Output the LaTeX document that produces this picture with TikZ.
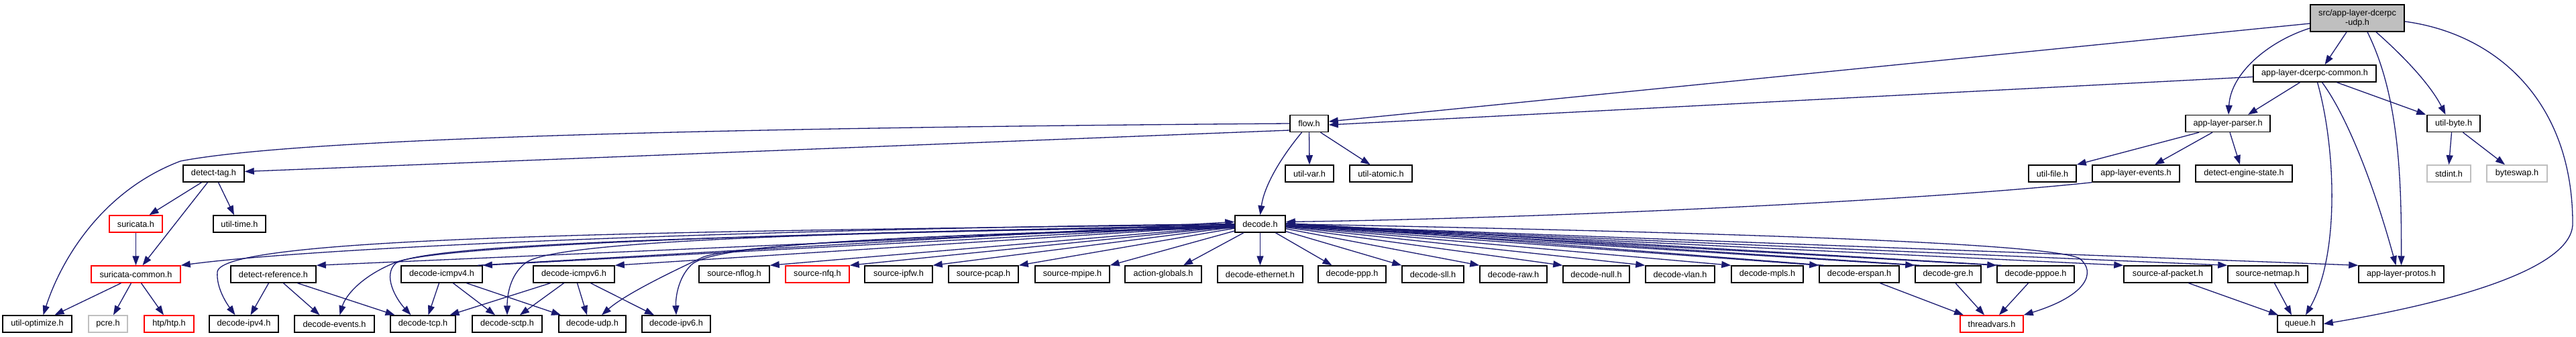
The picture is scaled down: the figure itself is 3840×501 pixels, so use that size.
\documentclass[tikz,border=0pt]{standalone}
\usepackage{fontspec}
\setmainfont{Liberation Sans}
\usetikzlibrary{arrows.meta,calc}
\definecolor{edgeblue}{HTML}{191970}
\definecolor{boxred}{HTML}{FF0000}
\definecolor{boxgray}{HTML}{BFBFBF}
\begin{document}
\begin{tikzpicture}[x=1pt,y=-1pt,
  box/.style={draw=black, line width=1.5pt, fill=white, inner sep=0pt, minimum height=25pt,
    font=\fontsize{12.7}{14}\selectfont, text=black},
  redbox/.style={box, draw=boxred},
  graybox/.style={box, draw=boxgray},
  e/.style={draw=edgeblue, line width=1.3pt, -{Triangle[length=14pt,width=10pt]}}]
\useasboundingbox[fill=white] (0,0) rectangle (3840,501);
% ---------- nodes ----------
\node[box, fill=boxgray, minimum width=140pt, minimum height=40pt, align=center] (top) at (3514,27) {src/app-layer-dcerpc\\-udp.h};
\node[box, minimum width=183pt] (common) at (3450.5,109.5) {app-layer-dcerpc-common.h};
\node[box, minimum width=57pt] (flow) at (1951.5,184) {flow.h};
\node[box, minimum width=126pt] (parser) at (3321,184) {app-layer-parser.h};
\node[box, minimum width=79pt] (utilbyte) at (3657.5,184) {util-byte.h};
\node[box, minimum width=91pt] (detecttag) at (318.5,258.5) {detect-tag.h};
\node[box, minimum width=72pt] (utilvar) at (1952,258.5) {util-var.h};
\node[box, minimum width=93pt] (utilatomic) at (2058.5,258.5) {util-atomic.h};
\node[box, minimum width=71pt] (utilfile) at (3059.5,258.5) {util-file.h};
\node[box, minimum width=130pt] (events) at (3184,258.5) {app-layer-events.h};
\node[box, minimum width=144pt] (des) at (3345,258.5) {detect-engine-state.h};
\node[graybox, minimum width=65pt] (stdint) at (3650.5,258.5) {stdint.h};
\node[graybox, minimum width=90pt] (byteswap) at (3752,258.5) {byteswap.h};
\node[redbox, minimum width=79pt] (suricata) at (202.5,333.5) {suricata.h};
\node[box, minimum width=78pt] (utiltime) at (357,333.5) {util-time.h};
\node[box, minimum width=75pt] (decode) at (1878.5,333.5) {decode.h};
\node[redbox, minimum width=133pt] (surcommon) at (202.5,408.5) {suricata-common.h};
\node[box, minimum width=127pt] (detectref) at (407.5,408.5) {detect-reference.h};
\node[box, minimum width=121pt] (icmpv4) at (658.5,408.5) {decode-icmpv4.h};
\node[box, minimum width=121pt] (icmpv6) at (855.5,408.5) {decode-icmpv6.h};
\node[box, minimum width=105pt] (nflog) at (1094.5,408.5) {source-nflog.h};
\node[redbox, minimum width=95pt] (nfq) at (1218.5,408.5) {source-nfq.h};
\node[box, minimum width=101pt] (ipfw) at (1339.5,408.5) {source-ipfw.h};
\node[box, minimum width=104pt] (pcap) at (1466,408.5) {source-pcap.h};
\node[box, minimum width=111pt] (mpipe) at (1598.5,408.5) {source-mpipe.h};
\node[box, minimum width=114pt] (actglob) at (1734,408.5) {action-globals.h};
\node[box, minimum width=127pt] (ethernet) at (1878.5,408.5) {decode-ethernet.h};
\node[box, minimum width=101pt] (ppp) at (2015.5,408.5) {decode-ppp.h};
\node[box, minimum width=92pt] (sll) at (2136,408.5) {decode-sll.h};
\node[box, minimum width=100pt] (raw) at (2256,408.5) {decode-raw.h};
\node[box, minimum width=99pt] (null) at (2379.5,408.5) {decode-null.h};
\node[box, minimum width=103pt] (vlan) at (2504.5,408.5) {decode-vlan.h};
\node[box, minimum width=107pt] (mpls) at (2634.5,408.5) {decode-mpls.h};
\node[box, minimum width=119pt] (erspan) at (2771.5,408.5) {decode-erspan.h};
\node[box, minimum width=98pt] (gre) at (2904,408.5) {decode-gre.h};
\node[box, minimum width=115pt] (pppoe) at (3034.5,408.5) {decode-pppoe.h};
\node[box, minimum width=131pt] (afpacket) at (3231.5,408.5) {source-af-packet.h};
\node[box, minimum width=119pt] (netmap) at (3380.5,408.5) {source-netmap.h};
\node[box, minimum width=127pt] (protos) at (3579.5,408.5) {app-layer-protos.h};
\node[box, minimum width=103pt] (optimize) at (55.5,482.5) {util-optimize.h};
\node[graybox, minimum width=58pt] (pcre) at (161,482.5) {pcre.h};
\node[redbox, minimum width=74pt] (htp) at (252,482.5) {htp/htp.h};
\node[box, minimum width=103pt] (ipv4) at (363.5,482.5) {decode-ipv4.h};
\node[box, minimum width=119pt] (events2) at (498.5,482.5) {decode-events.h};
\node[box, minimum width=97pt] (tcp) at (630.5,482.5) {decode-tcp.h};
\node[box, minimum width=104pt] (sctp) at (756,482.5) {decode-sctp.h};
\node[box, minimum width=100pt] (udp) at (883,482.5) {decode-udp.h};
\node[box, minimum width=102pt] (ipv6) at (1008,482.5) {decode-ipv6.h};
\node[redbox, minimum width=94pt] (threadvars) at (2969,482.5) {threadvars.h};
\node[box, minimum width=68pt] (queue) at (3429,482.5) {queue.h};
% ---------- edges from top ----------
\draw[e] ($(top.west)+(0,8)$) -- ($(flow.east)+(0,-3)$);
\draw[e] ($(top.west)+(0,15)$) .. controls (3380,62) and (3325,110) .. ($(parser.north)+(1,0)$);
\draw[e] ($(top.south)+(-16,0)$) -- ($(common.north)+(15,0)$);
\draw[e] ($(top.south)+(15,0)$) .. controls (3575,140) and (3580,260) .. (protos.north);
\draw[e] ($(top.south)+(28,0)$) .. controls (3590,90) and (3625,130) .. ($(utilbyte.north)+(-12,0)$);
\draw[e] ($(top.east)+(0,5)$) .. controls (3720,50) and (3835,150) .. (3835,333) .. controls (3835,405) and (3630,455) .. (queue.east);
% ---------- common ----------
\draw[e] ($(common.west)+(0,5)$) -- ($(flow.east)+(0,2)$);
\draw[e] ($(common.south)+(-22,0)$) -- ($(parser.north)+(30,0)$);
\draw[e] ($(common.south)+(33,0)$) -- ($(utilbyte.north west)+(-1,0)$);
\draw[e] ($(common.south)+(4,0)$) .. controls (3482,220) and (3488,380) .. ($(queue.north)+(8,0)$);
\draw[e] ($(common.south)+(11,0)$) .. controls (3500,175) and (3540,280) .. ($(protos.north)+(-8,0)$);
% ---------- util-byte ----------
\draw[e] ($(utilbyte.south)+(-3,0)$) -- (stdint.north);
\draw[e] ($(utilbyte.south)+(14,0)$) -- ($(byteswap.north)+(-18,0)$);
% ---------- parser ----------
\draw[e] ($(parser.south)+(-43,0)$) -- (utilfile.north east);
\draw[e] ($(parser.south)+(-23,0)$) -- ($(events.north)+(28,0)$);
\draw[e] ($(parser.south)+(3,0)$) -- ($(des.north)+(-6,0)$);
\draw[e] (events.south west) .. controls (2850,300) and (2300,325) .. ($(decode.east)+(0,-3)$);
% ---------- flow ----------
\draw[e] (flow.west) .. controls (1100,190) and (450,205) .. (269,240) .. controls (150,285) and (90,390) .. ($(optimize.north)+(9,0)$);
\draw[e] ($(flow.west)+(0,10)$) -- ($(detecttag.east)+(0,-3)$);
\draw[e] ($(flow.south)+(-11,0)$) .. controls (1905,240) and (1884,280) .. (decode.north);
\draw[e] (flow.south) -- (utilvar.north);
\draw[e] ($(flow.south)+(17,0)$) -- ($(utilatomic.north)+(-16,0)$);
% ---------- detect-tag ----------
\draw[e] ($(detecttag.south)+(-18,0)$) -- ($(suricata.north)+(20,0)$);
\draw[e] ($(detecttag.south)+(-9,0)$) -- ($(surcommon.north)+(10,0)$);
\draw[e] ($(detecttag.south)+(7,0)$) -- ($(utiltime.north)+(-8,0)$);
\draw[e] (suricata) -- (surcommon);
\draw[e] ($(surcommon.south)+(-22,0)$) -- ($(optimize.north)+(26,0)$);
\draw[e] ($(surcommon.south)+(-7,0)$) -- ($(pcre.north)+(8,0)$);
\draw[e] ($(surcommon.south)+(8,0)$) -- ($(htp.north)+(-8,0)$);
% ---------- detect-reference ----------
\draw[e] ($(detectref.south)+(-7,0)$) -- ($(ipv4.north)+(10,0)$);
\draw[e] ($(detectref.south)+(15,0)$) -- ($(events2.north)+(-22,0)$);
\draw[e] ($(detectref.south)+(36,0)$) -- ($(tcp.north)+(-42,0)$);
% ---------- icmp ----------
\draw[e] ($(icmpv4.south)+(-4,0)$) -- ($(tcp.north)+(8,0)$);
\draw[e] ($(icmpv4.south)+(17,0)$) -- ($(sctp.north)+(-18,0)$);
\draw[e] ($(icmpv4.south)+(37,0)$) -- ($(udp.north)+(-47,0)$);
\draw[e] ($(icmpv6.south)+(-35,0)$) -- ($(tcp.north)+(40,0)$);
\draw[e] ($(icmpv6.south)+(-15,0)$) -- ($(sctp.north)+(19,0)$);
\draw[e] ($(icmpv6.south)+(5,0)$) -- ($(udp.north)+(-8,0)$);
\draw[e] ($(icmpv6.south)+(25,0)$) -- ($(ipv6.north)+(-33,0)$);
% ---------- to threadvars / queue ----------
\draw[e] ($(erspan.south)+(31,0)$) -- ($(threadvars.north)+(-42,0)$);
\draw[e] ($(gre.south)+(11,0)$) -- ($(threadvars.north)+(-11,0)$);
\draw[e] ($(pppoe.south)+(-11,0)$) -- ($(threadvars.north)+(11,0)$);
\draw[e] ($(afpacket.south)+(31,0)$) -- ($(queue.north)+(-33,0)$);
\draw[e] ($(netmap.south)+(10,0)$) -- ($(queue.north)+(-13,0)$);
% ---------- decode.h fan-out ----------
\draw[e] (decode.west) .. controls (1200,340) and (500,365) .. (surcommon.north east);
\draw[e] (decode) -- (detectref.north east);
\draw[e] ($(decode.west)+(0,1)$) .. controls (900,345) and (330,355) .. (324,405) .. controls (322,430) and (340,455) .. ($(ipv4.north)+(-13,0)$);
\draw[e] ($(decode.west)+(0,2)$) .. controls (1000,350) and (650,370) .. (592,390) .. controls (540,410) and (515,440) .. ($(events2.north)+(8,0)$);
\draw[e] ($(decode.west)+(0,3)$) .. controls (1000,352) and (640,365) .. (590,392) .. controls (570,410) and (590,445) .. ($(tcp.north)+(-18,0)$);
\draw[e] ($(decode.west)+(0,4)$) .. controls (1200,346) and (820,360) .. (783,392) .. controls (760,410) and (756,440) .. (sctp.north);
\draw[e] ($(decode.west)+(0,5)$) .. controls (1300,350) and (1080,370) .. (1048,383) .. controls (990,410) and (930,440) .. ($(udp.north)+(14,0)$);
\draw[e] ($(decode.west)+(0,6)$) .. controls (1300,352) and (1060,365) .. (1030,395) .. controls (1010,415) and (1007,445) .. (ipv6.north);
\draw[e] (decode) -- (icmpv4.north east);
\draw[e] ($(icmpv4.north east)+(-8,0)$) -- ($(decode.west)+(0,-3)$);
\draw[e] (decode) -- (icmpv6.north east);
\draw[e] (decode) -- (nflog.north east);
\draw[e] (decode) -- (nfq.north east);
\draw[e] (decode) -- (ipfw.north east);
\draw[e] (decode) -- (pcap.north east);
\draw[e] (decode) -- (mpipe.north east);
\draw[e] (decode) -- ($(actglob.north)+(30,0)$);
\draw[e] (decode.south) -- (ethernet.north);
\draw[e] (decode) -- ($(ppp.north)+(-30,0)$);
\draw[e] (decode) -- (sll.north west);
\draw[e] (decode) -- (raw.north west);
\draw[e] (decode) -- (null.north west);
\draw[e] (decode) -- (vlan.north west);
\draw[e] (decode) -- (mpls.north west);
\draw[e] (decode) -- (erspan.north west);
\draw[e] ($(erspan.north west)+(8,0)$) -- ($(decode.east)+(0,-1)$);
\draw[e] (decode) -- (gre.north west);
\draw[e] ($(gre.north west)+(8,0)$) -- ($(decode.east)+(0,-1)$);
\draw[e] (decode) -- (pppoe.north west);
\draw[e] ($(pppoe.north west)+(8,0)$) -- ($(decode.east)+(0,-1)$);
\draw[e] (decode) -- (afpacket.north west);
\draw[e] (decode) -- (netmap.north west);
\draw[e] (decode) -- (protos.north west);
\draw[e] (decode.east) .. controls (2500,345) and (3050,360) .. (3100,385) .. controls (3125,405) and (3112,440) .. (threadvars.north east);
\end{tikzpicture}
\end{document}
